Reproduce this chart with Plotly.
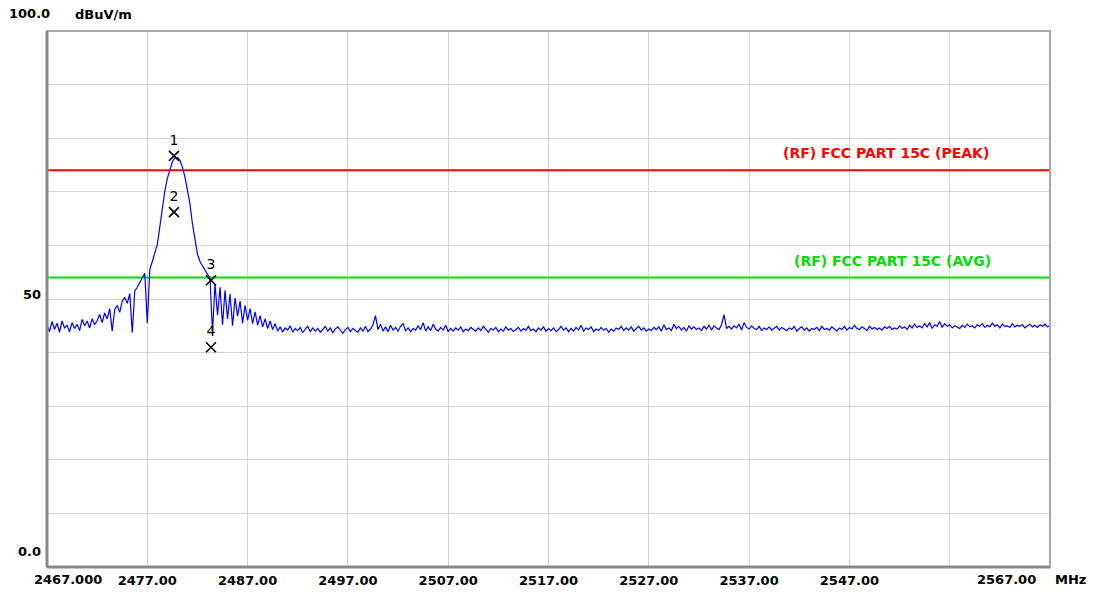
import numpy as np
import plotly.graph_objects as go

# ---- data ----
freq_start = 2467.0
freq_step = 0.25

levels = [
    # 2467 - 2489.75 (4 per MHz)
    45.2, 43.9, 45.8, 44.3,
    45.5, 43.8, 45.9, 44.6,
    45.1, 43.9, 45.6, 44.5,
    45.3, 44.1, 46.2, 45.0,
    45.9, 44.6, 46.3, 45.2,
    46.0, 47.1, 45.6, 47.4,
    46.3, 48.2, 44.0, 48.0,
    48.8, 47.5, 49.6, 50.3,
    49.2, 51.0, 43.7, 51.5,
    52.2, 53.0, 54.0, 54.8,
    45.5, 55.5, 57.0, 58.5,
    60.2, 63.5, 67.4, 70.2,
    72.5, 74.3, 75.6, 76.3,
    76.4, 75.9, 74.6, 72.8,
    70.6, 67.8, 64.0, 60.8,
    58.4, 57.0, 56.1, 55.3,
    54.6, 53.9, 43.7, 52.8,
    47.0, 52.2, 45.2, 51.6,
    46.3, 50.9, 45.0, 50.2,
    46.8, 49.6, 45.5, 48.8,
    46.0, 48.2, 45.4, 47.6,
    45.1, 46.9, 44.8, 46.3,
    44.5, 45.9, 44.3, 45.4,
    # 2490 - 2567 (8 per row = 2 MHz)
    44.0, 44.8, 43.9, 44.6, 44.2, 45.0, 43.8, 44.5,
    44.1, 44.7, 43.7, 44.4, 44.9, 43.9, 44.6, 44.0,
    44.5, 43.8, 44.3, 44.9, 44.0, 44.6, 43.7, 44.4,
    44.8, 44.1, 43.6, 44.3, 44.7, 43.9, 44.5, 44.1,
    43.8, 44.6, 44.0, 44.9, 43.9, 44.4, 45.2, 46.9,
    44.3, 45.3, 44.0, 44.8, 43.9, 45.1, 44.2, 44.7,
    44.0, 44.9, 45.4, 44.1, 44.6, 43.9, 44.5, 44.2,
    45.0, 44.3, 45.6, 44.0, 44.8, 44.1, 45.3, 44.4,
    44.0, 44.7, 44.2, 45.1, 43.9, 44.5, 44.0, 44.6,
    44.2, 44.8, 43.9, 44.4, 44.1, 44.7, 44.3, 44.0,
    44.6, 44.1, 44.9, 44.3, 43.8, 44.5, 44.2, 44.7,
    43.9, 44.4, 44.0, 44.8, 44.2, 44.5, 43.9, 44.3,
    44.7, 44.0, 44.5, 44.2, 44.9, 44.1, 44.4, 43.9,
    44.6, 44.2, 44.8, 44.0, 44.5, 44.1, 44.6, 43.9,
    44.3, 44.9, 44.2, 44.6, 43.9, 44.5, 44.0, 44.7,
    44.2, 45.1, 44.0, 44.6, 44.3, 44.8, 43.9, 44.4,
    44.1, 44.7, 44.2, 44.5, 43.8, 44.4, 44.0, 44.6,
    44.3, 44.9, 44.1, 44.6, 44.2, 44.8, 44.0, 44.5,
    44.9, 44.2, 44.6, 44.0, 44.4, 44.1, 44.7, 44.3,
    44.8, 44.0, 45.2, 44.3, 44.6, 44.1, 45.3, 44.5,
    44.9, 44.2, 44.7, 44.0, 45.0, 44.4, 44.8, 44.3,
    44.6, 44.1, 44.9, 44.4, 45.1, 44.2, 45.0, 44.6,
    44.3, 45.2, 47.1, 44.5, 44.9, 44.4, 45.0, 44.6,
    45.3, 44.2, 45.6, 44.7, 44.4, 45.0, 44.5, 44.3,
    44.9, 44.1, 44.6, 44.3, 44.8, 44.2, 44.5, 44.9,
    44.2, 44.7, 44.4, 44.1, 44.6, 44.3, 44.9, 44.0,
    44.5, 44.8, 44.2, 44.6, 44.0, 44.5, 44.3, 44.7,
    44.1, 44.9, 44.3, 44.5, 44.2, 44.8, 44.4, 44.0,
    44.6, 44.3, 44.9, 44.2, 44.7, 44.4, 45.1, 44.5,
    44.3, 44.8, 44.5, 44.1, 44.9, 44.4, 44.7, 44.3,
    44.6, 44.2, 44.8, 44.5, 44.9, 44.3, 44.6, 44.4,
    45.0, 44.5, 44.8, 44.3, 45.1, 44.6, 45.3, 44.7,
    45.0, 44.6, 45.4, 44.8, 45.6, 44.5, 45.2, 44.9,
    45.8, 44.7, 45.4, 44.9, 45.2, 44.6, 45.0, 44.8,
    44.5, 45.1, 44.7, 45.3, 44.8, 45.0, 44.6, 45.2,
    44.9, 45.4, 44.7, 45.1, 44.8, 45.5, 44.9, 45.2,
    44.6, 45.3, 44.9, 45.0, 44.7, 45.4, 44.8, 45.1,
    44.9, 45.2, 44.6, 45.0, 45.3, 44.8, 45.1, 44.7,
    45.2, 44.9, 45.3, 44.8, 45.0,
]
freqs = [round(freq_start + freq_step * i, 2) for i in range(len(levels))]

marker_ids = ["1", "2", "3", "4"]
marker_freqs = [2479.66, 2479.66, 2483.35, 2483.35]
marker_levels = [76.7, 66.2, 53.5, 41.0]

limit_peak = 74.0
limit_avg = 54.0
limit_peak_label = "(RF) FCC PART 15C (PEAK)"
limit_avg_label = "(RF) FCC PART 15C (AVG)"

x_ticks = [2467, 2477, 2487, 2497, 2507, 2517, 2527, 2537, 2547, 2557, 2567]
x_tick_labels = ["", "2477.00", "2487.00", "2497.00", "2507.00", "2517.00",
                 "2527.00", "2537.00", "2547.00", "", ""]
x_min, x_max = 2467, 2567
y_min, y_max = 0, 100

FONT = "DejaVu Sans, Arial, sans-serif"

fig = go.Figure()

# limit lines
fig.add_trace(go.Scatter(x=[x_min, x_max], y=[limit_peak, limit_peak], mode="lines",
                         line=dict(color="#ff0000", width=2), hoverinfo="skip"))
fig.add_trace(go.Scatter(x=[x_min, x_max], y=[limit_avg, limit_avg], mode="lines",
                         line=dict(color="#00e000", width=2), hoverinfo="skip"))

# spectrum trace
fig.add_trace(go.Scatter(x=freqs, y=levels, mode="lines",
                         line=dict(color="#0000ff", width=1.2)))

# markers
fig.add_trace(go.Scatter(x=marker_freqs, y=marker_levels, mode="markers+text",
                         text=marker_ids, textposition="top center",
                         textfont=dict(family=FONT, size=14, color="black"),
                         marker=dict(symbol="x-thin", size=10, color="black",
                                     line=dict(color="black", width=1.6))))

fig.update_layout(
    width=1093, height=592,
    margin=dict(l=47, r=43, t=31, b=25),
    paper_bgcolor="white", plot_bgcolor="white",
    showlegend=False,
    font=dict(family=FONT, size=13, color="black"),
    xaxis=dict(range=[x_min, x_max], tickvals=x_ticks, ticktext=x_tick_labels,
               showgrid=True, gridcolor="#d4d4d4", gridwidth=1, zeroline=False,
               ticks="", showline=False, automargin=False,
               tickfont=dict(family=FONT, size=13, color="black", weight="bold"),
               ticklabelstandoff=4),
    yaxis=dict(range=[y_min, y_max], dtick=10, showticklabels=False,
               showgrid=True, gridcolor="#d4d4d4", gridwidth=1, zeroline=False,
               ticks="", showline=False, automargin=False),
)

# frame
fig.add_shape(type="rect", xref="paper", yref="paper", x0=0, x1=1, y0=0, y1=1,
              line=dict(color="#a8a8a8", width=2), layer="above")
fig.add_shape(type="line", xref="paper", yref="paper", x0=0, x1=0, y0=0, y1=1,
              line=dict(color="#8a8a8a", width=3), layer="above")
fig.add_shape(type="line", xref="paper", yref="paper", x0=0, x1=1, y0=0, y1=0,
              line=dict(color="#8a8a8a", width=3), layer="above")

bold = dict(family=FONT, size=13, color="black", weight="bold")
ann = [
    dict(x=x_min, y=y_max, xref="x", yref="y", text="100.0", xanchor="right",
         yanchor="middle", xshift=5, yshift=18, showarrow=False, font=bold),
    dict(x=x_min, y=y_max, xref="x", yref="y", text="dBuV/m", xanchor="left",
         yanchor="middle", xshift=26, yshift=17, showarrow=False, font=bold),
    dict(x=x_min, y=50, xref="x", yref="y", text="50", xanchor="right",
         yanchor="middle", xshift=-4, yshift=5, showarrow=False, font=bold),
    dict(x=x_min, y=y_min, xref="x", yref="y", text="0.0", xanchor="right",
         yanchor="middle", xshift=-4, yshift=16, showarrow=False, font=bold),
    dict(x=x_min, y=y_min, xref="x", yref="y", text="2467.000", xanchor="left",
         yanchor="middle", xshift=-15, yshift=-12, showarrow=False, font=bold),
    dict(x=x_max, y=y_min, xref="x", yref="y", text="2567.00", xanchor="right",
         yanchor="middle", xshift=-12, yshift=-12, showarrow=False, font=bold),
    dict(x=x_max, y=y_min, xref="x", yref="y", text="MHz", xanchor="left",
         yanchor="middle", xshift=3, yshift=-12, showarrow=False, font=bold),
    dict(x=2550.6, y=limit_peak, xref="x", yref="y", text=limit_peak_label,
         xanchor="center", yanchor="middle", yshift=17, showarrow=False,
         font=dict(family=FONT, size=14, color="#ff0000", weight="bold")),
    dict(x=2551.3, y=limit_avg, xref="x", yref="y", text=limit_avg_label,
         xanchor="center", yanchor="middle", yshift=17, showarrow=False,
         font=dict(family=FONT, size=14, color="#00dd00", weight="bold")),
]
fig.update_layout(annotations=ann)

fig.write_html("out.html", config={"displayModeBar": False},
               post_script="document.body.style.margin='0';")
